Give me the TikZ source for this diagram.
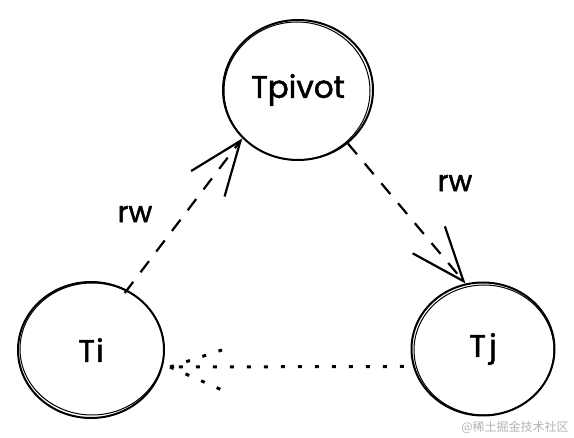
\documentclass[tikz,border=0pt]{standalone}
\usepackage{fontspec}
\setmainfont{Poppins}[FakeBold=1.6]
\newfontfamily\cjkfont{Noto Sans CJK SC}
\usetikzlibrary{arrows.meta,shapes.geometric}
\definecolor{markgray}{RGB}{178,178,178}
\tikzset{
  txn/.style={ellipse, draw, line width=2pt, inner sep=0pt, font=\fontsize{31}{31}\selectfont},
  sketch/.style={line width=1pt},
  rwlabel/.style={font=\fontsize{29}{29}\selectfont},
  rwarrow/.style={line width=2.2pt, dash pattern=on 14pt off 12pt,
    -{Straight Barb[length=54pt,width=42pt,line width=2.2pt]}},
  depline/.style={line width=3pt, dash pattern=on 4pt off 13pt},
}
\begin{document}
\begin{tikzpicture}[x=1pt,y=-1pt]
\useasboundingbox (0,0) rectangle (574,438);
% transactions
\node[txn, minimum width=150pt, minimum height=140pt] (pivot) at (298,90) {Tpivot};
\node[txn, minimum width=146pt, minimum height=136pt] (ti) at (91,350) {T\kern1pt i};
\node[txn, minimum width=143pt, minimum height=133pt] (tj) at (483,349) {T\kern3pt j};
\draw[sketch] ([shift={(-1,1)}]pivot.center) ellipse (73 and 69);
\draw[sketch] ([shift={(1,-1)}]ti.center) ellipse (72 and 66);
\draw[sketch] ([shift={(1,1)}]tj.center) ellipse (70 and 65);

% rw edges
\draw[rwarrow, shorten <=-4pt] (ti.59) -- (pivot.221);
\draw[rwarrow] (pivot.-47) -- (tj.105);
\node[rwlabel] (rwa) at (135,214) {rw};
\node[rwlabel] (rwb) at (455,183) {rw};

% dependency
\coordinate (dtip) at (170,367);
\draw[depline, shorten <=9pt] (tj.194) -- (dtip);
\draw[depline] (dtip) -- +(52,-17);
\draw[depline] (dtip) -- +(52,23);

\node[text=markgray, font=\cjkfont\fontsize{12}{12}\selectfont] (mark) at (515,427) {@稀土掘金技术社区};
\end{tikzpicture}
\end{document}
